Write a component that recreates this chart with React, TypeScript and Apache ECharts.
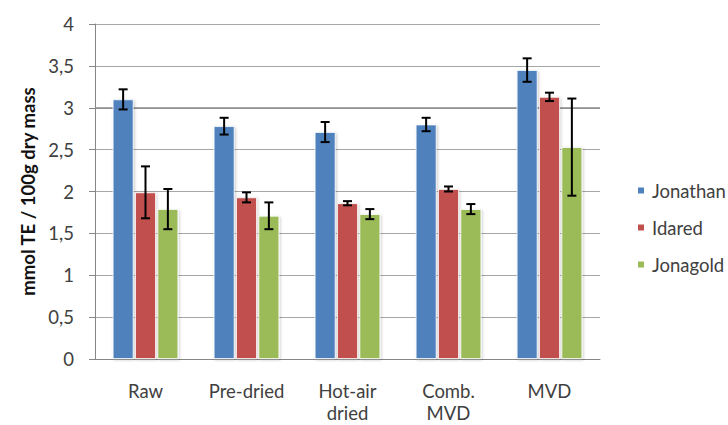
import React, { useEffect, useRef } from "react";
import * as echarts from "echarts";

const categories = ["Raw", "Pre-dried", "Hot-air\ndried", "Comb.\nMVD", "MVD"];
const seriesNames = ["Jonathan", "Idared", "Jonagold"];
const jonathan = [3.1, 2.78, 2.71, 2.8, 3.45];
const idared = [1.99, 1.93, 1.86, 2.03, 3.13];
const jonagold = [1.79, 1.71, 1.73, 1.79, 2.53];
const jonathanErr = [0.12, 0.1, 0.12, 0.08, 0.14];
const idaredErr = [0.31, 0.06, 0.025, 0.03, 0.05];
const jonagoldErr = [0.24, 0.16, 0.06, 0.06, 0.58];
const colors = ["#4F81BD", "#C0504D", "#9BBB59"];
const yTicks = [0, 0.5, 1, 1.5, 2, 2.5, 3, 3.5, 4];

const BAR_CAT_GAP = 0.35;
const BAR_GAP = 0.07;

export default function App() {
  const ref = useRef<HTMLDivElement>(null);
  useEffect(() => {
    const chart = echarts.init(ref.current!, null, { renderer: "svg" });
    const values = [jonathan, idared, jonagold];
    const errs = [jonathanErr, idaredErr, jonagoldErr];
    const font = "Lato, 'Open Sans', sans-serif";
    const fs = 18.5;

    const barSeries: any[] = values.map((vals, i) => ({
      name: seriesNames[i],
      type: "bar",
      data: vals,
      barGap: BAR_GAP * 100 + "%",
      barCategoryGap: BAR_CAT_GAP * 100 + "%",
      itemStyle: {
        color: colors[i],
        borderColor: "#ffffff",
        borderWidth: 0.8,
        shadowColor: "rgba(0,0,0,0.22)",
        shadowBlur: 3,
        shadowOffsetX: 1,
        shadowOffsetY: 1,
      },
      markLine: i === 0 ? {
        silent: true,
        symbol: "none",
        label: { show: false },
        lineStyle: { color: "#8a8a8a", width: 1.6, type: "solid" },
        data: [{ yAxis: 3 }],
        z: 1,
      } : undefined,
    }));

    const errSeries: any[] = values.map((vals, i) => ({
      name: seriesNames[i] + " err",
      type: "custom",
      z: 10,
      data: vals.map((v, j) => [j, v - errs[i][j], v + errs[i][j]]),
      renderItem: (params: any, api: any) => {
        const idx = api.value(0);
        const band = api.size([1, 0])[0];
        const groupW = band * (1 - BAR_CAT_GAP);
        const w = groupW / (3 + 2 * BAR_GAP);
        const offset = (i - 1) * w * (1 + BAR_GAP);
        const lo = api.coord([idx, api.value(1)]);
        const hi = api.coord([idx, api.value(2)]);
        const x = lo[0] + offset;
        const cap = 4.5;
        const style = { stroke: "#000", lineWidth: 2, fill: "none" };
        return {
          type: "group",
          children: [
            { type: "line", shape: { x1: x, y1: lo[1], x2: x, y2: hi[1] }, style },
            { type: "line", shape: { x1: x - cap, y1: lo[1], x2: x + cap, y2: lo[1] }, style },
            { type: "line", shape: { x1: x - cap, y1: hi[1], x2: x + cap, y2: hi[1] }, style },
          ],
        };
      },
    }));

    chart.setOption({
      animation: false,
      textStyle: { fontFamily: font },
      grid: { left: 95, top: 24, right: 128, bottom: 66, containLabel: false, outerBoundsMode: "none" },
      legend: {
        orient: "vertical",
        left: 631,
        top: 176,
        itemWidth: 8,
        itemHeight: 8,
        itemGap: 18,
        icon: "rect",
        data: seriesNames,
        textStyle: { fontSize: fs, color: "#404040", fontFamily: font, padding: [0, 0, 0, 2] },
      },
      xAxis: {
        type: "category",
        data: categories,
        axisLine: { lineStyle: { color: "#868686", width: 1 } },
        axisTick: { show: false },
        axisLabel: {
          fontSize: fs,
          color: "#404040",
          margin: 21,
          lineHeight: 22,
          fontFamily: font,
          interval: 0,
        },
      },
      yAxis: {
        type: "value",
        min: 0,
        max: 4,
        interval: 0.5,
        name: "mmol TE / 100g dry mass",
        nameLocation: "middle",
        nameGap: 57,
        nameTextStyle: { fontSize: 18.5, fontWeight: "bold", color: "#111111", fontFamily: font },
        axisLine: { show: true, lineStyle: { color: "#868686" } },
        axisTick: { show: true, length: 6, lineStyle: { color: "#868686" } },
        axisLabel: {
          fontSize: fs,
          color: "#404040",
          margin: 21,
          fontFamily: font,
          formatter: (v: number) => (yTicks.includes(v) ? String(v).replace(".", ",") : ""),
        },
        splitLine: { lineStyle: { color: "#a6a6a6", width: 1 } },
      },
      series: [...barSeries, ...errSeries],
    });
    return () => chart.dispose();
  }, []);
  return (
    <div
      ref={ref}
      style={{ position: "fixed", left: 0, top: 0, width: 728, height: 425, background: "#fff" }}
    />
  );
}
